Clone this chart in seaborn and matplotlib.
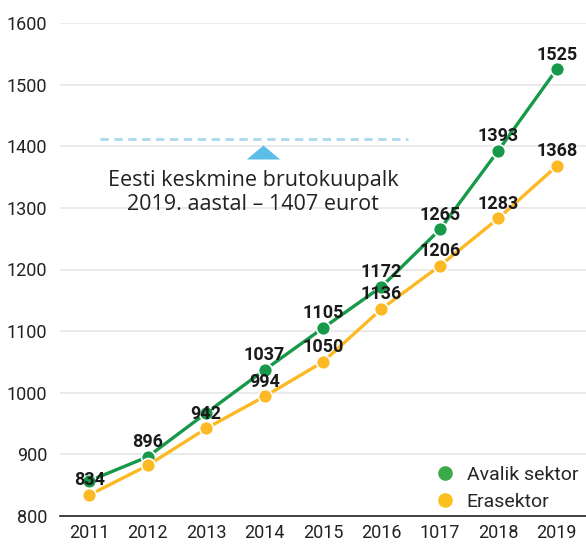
import matplotlib
matplotlib.use("Agg")
import matplotlib.pyplot as plt
import seaborn as sns
import pandas as pd
from matplotlib.lines import Line2D

years = ["2011", "2012", "2013", "2014", "2015", "2016", "1017", "2018", "2019"]
avalik = [857, 896, 967, 1037, 1105, 1172, 1265, 1393, 1525]
avalik_labels = ["", "896", "", "1037", "1105", "1172", "1265", "1393", "1525"]
era = [834, 882, 942, 994, 1050, 1136, 1206, 1283, 1368]
era_labels = ["834", "", "942", "994", "1050", "1136", "1206", "1283", "1368"]
avg_wage = 1407
annot_text = "Eesti keskmine brutokuupalk\n2019. aastal – 1407 eurot"

GREEN = "#17994a"
YELLOW = "#fdb924"

sns.set_theme(style="white")
plt.rcParams["font.family"] = ["Roboto", "DejaVu Sans"]

df = pd.DataFrame({
    "x": list(range(len(years))) * 2,
    "value": avalik + era,
    "series": ["Avalik sektor"] * len(years) + ["Erasektor"] * len(years),
})

fig = plt.figure(figsize=(5.86, 5.45), dpi=100)
ax = fig.add_axes([60 / 586, 29 / 545, 526 / 586, 493 / 545])

sns.lineplot(data=df, x="x", y="value", hue="series",
             palette={"Avalik sektor": GREEN, "Erasektor": YELLOW},
             marker="o", markersize=10, markeredgecolor="white", markeredgewidth=1.2,
             linewidth=2.4, ax=ax, legend=False)

ax.set_xlim(-0.5, 8.5)
ax.set_ylim(800, 1600)
ax.set_yticks(range(800, 1601, 100))
ax.set_xticks(range(len(years)))
ax.set_xticklabels(years)
ax.set_xlabel("")
ax.set_ylabel("")
ax.grid(axis="y", color="#e6e6e6", linewidth=1.2)
ax.grid(axis="x", visible=False)
for s in ["top", "right", "left"]:
    ax.spines[s].set_visible(False)
ax.spines["bottom"].set_color("#222222")
ax.spines["bottom"].set_linewidth(1.2)
ax.tick_params(axis="both", length=0, labelsize=13, colors="#222222")
ax.tick_params(axis="x", pad=6)
ax.tick_params(axis="y", pad=9)

for i, (v, t) in enumerate(zip(avalik, avalik_labels)):
    if t:
        ax.annotate(t, (i, v), xytext=(0, 4), textcoords="offset points",
                    ha="center", va="bottom", fontsize=13, fontweight="bold", color="#1a1a1a")
for i, (v, t) in enumerate(zip(era, era_labels)):
    if t:
        ax.annotate(t, (i, v), xytext=(0, 4), textcoords="offset points",
                    ha="center", va="bottom", fontsize=13, fontweight="bold", color="#1a1a1a")

# average wage reference line
ax.plot([0.19, 5.46], [avg_wage + 5, avg_wage + 5], linestyle=(0, (3, 2)), color="#a9d8ef", linewidth=2)
tri = [(-1.0, -0.42), (1.0, -0.42), (0.0, 0.42)]
ax.plot([2.97], [1390], marker=tri, markersize=24, color="#5bbde8", markeredgewidth=0)
ax.text(2.8, 1325, annot_text, ha="center", va="center", fontsize=15.5,
        color="#222222", linespacing=1.15, family=["Open Sans", "DejaVu Sans"])

handles = [Line2D([], [], marker="o", linestyle="", markersize=9.5, color="#3daa4a"),
           Line2D([], [], marker="o", linestyle="", markersize=9.5, color="#fcc11c")]
ax.legend(handles, ["Avalik sektor", "Erasektor"], loc="lower right",
          bbox_to_anchor=(1.0, -0.005), frameon=False, fontsize=14,
          handletextpad=0.1, labelspacing=0.45, borderaxespad=0.0)

fig.savefig("out.png", dpi=100)
